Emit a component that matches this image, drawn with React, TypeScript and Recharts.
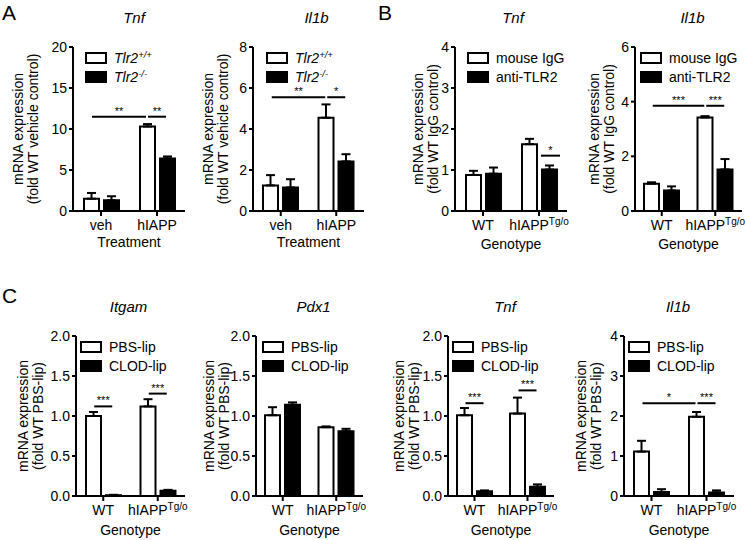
import React from "react";
import { BarChart, Bar, XAxis, YAxis, ErrorBar, ReferenceLine } from "recharts";

const FONT = '"Liberation Sans", Arial, Helvetica, sans-serif';

// ---- Panel A: Tlr2+/+ vs Tlr2-/- islets, vehicle vs hIAPP ----
const A_GROUPS = ["veh", "hIAPP"];
const A_LEGEND = ["Tlr2^+/+", "Tlr2^-/-"];

const A_TNF_WT = [1.5, 10.3];
const A_TNF_WT_SEM = [0.7, 0.3];
const A_TNF_KO = [1.3, 6.4];
const A_TNF_KO_SEM = [0.5, 0.25];
const A_TNF_TICKS = [0, 5, 10, 15, 20];

const A_IL1B_WT = [1.25, 4.55];
const A_IL1B_WT_SEM = [0.5, 0.65];
const A_IL1B_KO = [1.15, 2.42];
const A_IL1B_KO_SEM = [0.4, 0.35];
const A_IL1B_TICKS = [0, 2, 4, 6, 8];

// ---- Panel B: mouse IgG vs anti-TLR2 ----
const B_GROUPS = ["WT", "hIAPP^Tg/o"];
const B_LEGEND = ["mouse IgG", "anti-TLR2"];

const B_TNF_IGG = [0.88, 1.63];
const B_TNF_IGG_SEM = [0.1, 0.13];
const B_TNF_ANTI = [0.91, 1.01];
const B_TNF_ANTI_SEM = [0.15, 0.1];
const B_TNF_TICKS = [0, 1, 2, 3, 4];

const B_IL1B_IGG = [1.0, 3.42];
const B_IL1B_IGG_SEM = [0.05, 0.05];
const B_IL1B_ANTI = [0.75, 1.52];
const B_IL1B_ANTI_SEM = [0.15, 0.38];
const B_IL1B_TICKS = [0, 2, 4, 6];

// ---- Panel C: PBS-liposome vs clodronate-liposome ----
const C_GROUPS = ["WT", "hIAPP^Tg/o"];
const C_LEGEND = ["PBS-lip", "CLOD-lip"];

const C_ITGAM_PBS = [1.0, 1.12];
const C_ITGAM_PBS_SEM = [0.05, 0.09];
const C_ITGAM_CLOD = [0.01, 0.065];
const C_ITGAM_CLOD_SEM = [0.005, 0.012];

const C_PDX1_PBS = [1.01, 0.86];
const C_PDX1_PBS_SEM = [0.1, 0.01];
const C_PDX1_CLOD = [1.14, 0.81];
const C_PDX1_CLOD_SEM = [0.03, 0.03];

const C_TNF_PBS = [1.01, 1.03];
const C_TNF_PBS_SEM = [0.09, 0.2];
const C_TNF_CLOD = [0.06, 0.115];
const C_TNF_CLOD_SEM = [0.01, 0.03];

const C_IL1B_PBS = [1.11, 1.98];
const C_IL1B_PBS_SEM = [0.27, 0.12];
const C_IL1B_CLOD = [0.1, 0.09];
const C_IL1B_CLOD_SEM = [0.07, 0.05];

const C_FRAC_TICKS = [0, 0.5, 1, 1.5, 2];
const C_IL1B_TICKS = [0, 1, 2, 3, 4];

// significance bars: [group, slot] where slot -1 = white bar centre, +1 = black bar centre
type Sig = { from: [string, number]; to: [string, number]; y: number; mark: string };

const A_TNF_SIG: Sig[] = [
  { from: ["veh", -1], to: ["hIAPP", -1], y: 11.5, mark: "**" },
  { from: ["hIAPP", -1], to: ["hIAPP", 1], y: 11.5, mark: "**" },
];
const A_IL1B_SIG: Sig[] = [
  { from: ["veh", -1], to: ["hIAPP", -1], y: 5.55, mark: "**" },
  { from: ["hIAPP", -1], to: ["hIAPP", 1], y: 5.55, mark: "*" },
];
const B_TNF_SIG: Sig[] = [{ from: ["hIAPP^Tg/o", 0.1], to: ["hIAPP^Tg/o", 2.2], y: 1.35, mark: "*" }];
const B_IL1B_SIG: Sig[] = [
  { from: ["WT", -1], to: ["hIAPP^Tg/o", -1], y: 3.85, mark: "***" },
  { from: ["hIAPP^Tg/o", -1], to: ["hIAPP^Tg/o", 1], y: 3.85, mark: "***" },
];
const C_ITGAM_SIG: Sig[] = [
  { from: ["WT", -1], to: ["WT", 1], y: 1.12, mark: "***" },
  { from: ["hIAPP^Tg/o", -1], to: ["hIAPP^Tg/o", 1], y: 1.28, mark: "***" },
];
const C_TNF_SIG: Sig[] = [
  { from: ["WT", -1], to: ["WT", 1], y: 1.16, mark: "***" },
  { from: ["hIAPP^Tg/o", -1], to: ["hIAPP^Tg/o", 1], y: 1.32, mark: "***" },
];
const C_IL1B_SIG: Sig[] = [
  { from: ["WT", -1], to: ["hIAPP^Tg/o", -1], y: 2.32, mark: "*" },
  { from: ["hIAPP^Tg/o", -1], to: ["hIAPP^Tg/o", 1], y: 2.32, mark: "***" },
];

const BAR_SIZE = 15;
const BAR_GAP = 5;
const Y_AXIS_W = 40;
const X_AXIS_H = 45;
const FS = 14;

const intFmt = (v: number) => String(v);
const decFmt = (v: number) => v.toFixed(1);

function barShift(slot: number) {
  return (slot * (BAR_SIZE + BAR_GAP)) / 2;
}

function SigShape(props: any) {
  const { x1, x2, y1, fromSlot, toSlot, mark } = props;
  const a = x1 + barShift(fromSlot) + 1;
  const b = x2 + barShift(toSlot) - 1;
  return (
    <g>
      <line x1={a} x2={b} y1={y1} y2={y1} stroke="#000" strokeWidth={2} />
      <text x={(a + b) / 2} y={y1 - 2} textAnchor="middle" fontSize={11} fill="#000">
        {mark}
      </text>
    </g>
  );
}

function SupText({ s, italic }: { s: string; italic?: boolean }) {
  const [base, sup] = s.split("^");
  return (
    <span style={{ fontStyle: italic ? "italic" : "normal" }}>
      {base}
      {sup && <span style={{ fontSize: 9.5, verticalAlign: 5, lineHeight: 0 }}>{sup}</span>}
    </span>
  );
}

function GroupTick(props: any) {
  const { x, y, payload } = props;
  const [base, sup] = String(payload.value).split("^");
  return (
    <text x={x} y={y} dy="0.71em" textAnchor="middle" fontSize={FS} fill="#000">
      {base}
      {sup && (
        <tspan dy={-5} fontSize={10}>
          {sup}
        </tspan>
      )}
    </text>
  );
}

type PanelProps = {
  title: string;
  axisX: number;
  top: number;
  plotW: number;
  plotH: number;
  groups: string[];
  a: number[];
  aSem: number[];
  b: number[];
  bSem: number[];
  ticks: number[];
  fmt: (v: number) => string;
  yLines: string[];
  yOff: number;
  legend: string[];
  italicLegend?: boolean;
  legendDx: number;
  sig: Sig[];
  xTitle: string;
  xTitleOffset: number;
  titleDx: number;
};

function Panel(p: PanelProps) {
  const rows = p.groups.map((g, i) => ({
    group: g,
    a: p.a[i],
    aErr: [0, p.aSem[i]],
    b: p.b[i],
    bErr: [0, p.bSem[i]],
  }));
  const axisStyle = { stroke: "#000", strokeWidth: 2 };
  const chartW = Y_AXIS_W + p.plotW + 10;
  const chartH = 10 + p.plotH + X_AXIS_H;
  const cy = p.top + p.plotH / 2;
  return (
    <>
      <div
        style={{
          position: "absolute",
          left: p.axisX,
          width: p.plotW,
          top: p.top - 38,
          height: 18,
          lineHeight: "18px",
          textAlign: "center",
          fontSize: 15,
          fontStyle: "italic",
          transform: `translateX(${p.titleDx}px)`,
        }}
      >
        {p.title}
      </div>
      {p.yLines.map((t, i) => (
        <div
          key={i}
          style={{
            position: "absolute",
            left: p.axisX - p.yOff - (p.yLines.length - 1 - i) * 15,
            top: cy,
            fontSize: FS,
            lineHeight: "15px",
            whiteSpace: "nowrap",
            transform: "translate(-50%, -50%) rotate(-90deg)",
          }}
        >
          {t}
        </div>
      ))}
      <div style={{ position: "absolute", left: p.axisX - Y_AXIS_W, top: p.top - 10 }}>
        <BarChart
          width={chartW}
          height={chartH}
          data={rows}
          barSize={BAR_SIZE}
          barGap={BAR_GAP}
          margin={{ top: 10, right: 10, left: 0, bottom: 0 }}
        >
          <XAxis
            dataKey="group"
            type="category"
            height={X_AXIS_H}
            interval={0}
            tickSize={5}
            tickMargin={4}
            axisLine={axisStyle}
            tickLine={axisStyle}
            tick={<GroupTick />}
            label={{ value: p.xTitle, position: "insideBottom", offset: p.xTitleOffset, fill: "#000", fontSize: FS }}
          />
          <YAxis
            type="number"
            domain={[0, p.ticks[p.ticks.length - 1]]}
            ticks={p.ticks}
            interval={0}
            width={Y_AXIS_W}
            tickSize={4}
            tickMargin={2}
            axisLine={axisStyle}
            tickLine={axisStyle}
            tick={{ fill: "#000", fontSize: FS }}
            tickFormatter={p.fmt}
          />
          <Bar dataKey="a" fill="#fff" stroke="#000" strokeWidth={2} isAnimationActive={false}>
            <ErrorBar dataKey="aErr" direction="y" width={4.5} stroke="#000" strokeWidth={2} />
          </Bar>
          <Bar dataKey="b" fill="#000" stroke="#000" strokeWidth={2} isAnimationActive={false}>
            <ErrorBar dataKey="bErr" direction="y" width={4.5} stroke="#000" strokeWidth={2} />
          </Bar>
          {p.sig.map((s, i) => (
            <ReferenceLine
              key={i}
              segment={[
                { x: s.from[0], y: s.y },
                { x: s.to[0], y: s.y },
              ]}
              stroke="#000"
              shape={(lp: any) => <SigShape {...lp} fromSlot={s.from[1]} toSlot={s.to[1]} mark={s.mark} />}
            />
          ))}
        </BarChart>
      </div>
      <div style={{ position: "absolute", left: p.axisX + p.legendDx, top: p.top + 1, fontSize: FS }}>
        {p.legend.map((l, i) => (
          <div key={i} style={{ display: "flex", alignItems: "center", height: 19 }}>
            <div
              style={{
                width: 18,
                height: 8,
                border: "2px solid #000",
                background: i === 0 ? "#fff" : "#000",
                marginRight: 7,
              }}
            />
            <SupText s={l} italic={p.italicLegend} />
          </div>
        ))}
      </div>
    </>
  );
}

const ROW1_TOP = 47;
const ROW1_H = 164;
const ROW2_TOP = 336;
const ROW2_H = 160;

const PANELS: PanelProps[] = [
  {
    title: "Tnf", axisX: 73, top: ROW1_TOP, plotW: 112, plotH: ROW1_H, groups: A_GROUPS,
    a: A_TNF_WT, aSem: A_TNF_WT_SEM, b: A_TNF_KO, bSem: A_TNF_KO_SEM, ticks: A_TNF_TICKS, fmt: intFmt,
    yLines: ["mRNA expression", "(fold WT vehicle control)"], yOff: 40, legend: A_LEGEND, italicLegend: true,
    legendDx: 12, sig: A_TNF_SIG, xTitle: "Treatment", xTitleOffset: 9, titleDx: 5,
  },
  {
    title: "Il1b", axisX: 253, top: ROW1_TOP, plotW: 111, plotH: ROW1_H, groups: A_GROUPS,
    a: A_IL1B_WT, aSem: A_IL1B_WT_SEM, b: A_IL1B_KO, bSem: A_IL1B_KO_SEM, ticks: A_IL1B_TICKS, fmt: intFmt,
    yLines: ["mRNA expression", "(fold WT vehicle control)"], yOff: 30, legend: A_LEGEND, italicLegend: true,
    legendDx: 13, sig: A_IL1B_SIG, xTitle: "Treatment", xTitleOffset: 9, titleDx: 8,
  },
  {
    title: "Tnf", axisX: 455, top: ROW1_TOP, plotW: 112, plotH: ROW1_H, groups: B_GROUPS,
    a: B_TNF_IGG, aSem: B_TNF_IGG_SEM, b: B_TNF_ANTI, bSem: B_TNF_ANTI_SEM, ticks: B_TNF_TICKS, fmt: intFmt,
    yLines: ["mRNA expression", "(fold WT IgG control)"], yOff: 22, legend: B_LEGEND,
    legendDx: 12, sig: B_TNF_SIG, xTitle: "Genotype", xTitleOffset: 7, titleDx: 2,
  },
  {
    title: "Il1b", axisX: 635, top: ROW1_TOP, plotW: 107, plotH: ROW1_H, groups: B_GROUPS,
    a: B_IL1B_IGG, aSem: B_IL1B_IGG_SEM, b: B_IL1B_ANTI, bSem: B_IL1B_ANTI_SEM, ticks: B_IL1B_TICKS, fmt: intFmt,
    yLines: ["mRNA expression", "(fold WT IgG control)"], yOff: 26, legend: B_LEGEND,
    legendDx: 5, sig: B_IL1B_SIG, xTitle: "Genotype", xTitleOffset: 7, titleDx: 4,
  },
  {
    title: "Itgam", axisX: 76, top: ROW2_TOP, plotW: 109, plotH: ROW2_H, groups: C_GROUPS,
    a: C_ITGAM_PBS, aSem: C_ITGAM_PBS_SEM, b: C_ITGAM_CLOD, bSem: C_ITGAM_CLOD_SEM, ticks: C_FRAC_TICKS, fmt: decFmt,
    yLines: ["mRNA expression", "(fold WT PBS-lip)"], yOff: 38, legend: C_LEGEND,
    legendDx: 4, sig: C_ITGAM_SIG, xTitle: "Genotype", xTitleOffset: 6, titleDx: -2,
  },
  {
    title: "Pdx1", axisX: 256, top: ROW2_TOP, plotW: 107, plotH: ROW2_H, groups: C_GROUPS,
    a: C_PDX1_PBS, aSem: C_PDX1_PBS_SEM, b: C_PDX1_CLOD, bSem: C_PDX1_CLOD_SEM, ticks: C_FRAC_TICKS, fmt: decFmt,
    yLines: ["mRNA expression", "(fold WT PBS-lip)"], yOff: 32, legend: C_LEGEND,
    legendDx: 6, sig: [], xTitle: "Genotype", xTitleOffset: 6, titleDx: 4,
  },
  {
    title: "Tnf", axisX: 448, top: ROW2_TOP, plotW: 106, plotH: ROW2_H, groups: C_GROUPS,
    a: C_TNF_PBS, aSem: C_TNF_PBS_SEM, b: C_TNF_CLOD, bSem: C_TNF_CLOD_SEM, ticks: C_FRAC_TICKS, fmt: decFmt,
    yLines: ["mRNA expression", "(fold WT PBS-lip)"], yOff: 34, legend: C_LEGEND,
    legendDx: 4, sig: C_TNF_SIG, xTitle: "Genotype", xTitleOffset: 6, titleDx: 4,
  },
  {
    title: "Il1b", axisX: 624, top: ROW2_TOP, plotW: 110, plotH: ROW2_H, groups: C_GROUPS,
    a: C_IL1B_PBS, aSem: C_IL1B_PBS_SEM, b: C_IL1B_CLOD, bSem: C_IL1B_CLOD_SEM, ticks: C_IL1B_TICKS, fmt: intFmt,
    yLines: ["mRNA expression", "(fold WT PBS-lip)"], yOff: 28, legend: C_LEGEND,
    legendDx: 4, sig: C_IL1B_SIG, xTitle: "Genotype", xTitleOffset: 6, titleDx: -1,
  },
];

const LETTERS = [
  { t: "A", x: 2, y: 2 },
  { t: "B", x: 378, y: 2 },
  { t: "C", x: 2, y: 285 },
];

export default function App() {
  return (
    <div
      style={{
        position: "absolute",
        left: 0,
        top: 0,
        width: 745,
        height: 540,
        overflow: "hidden",
        background: "#fff",
        color: "#000",
        fontFamily: FONT,
      }}
    >
      {LETTERS.map((l) => (
        <div key={l.t} style={{ position: "absolute", left: l.x, top: l.y, fontSize: 21, lineHeight: "22px" }}>
          {l.t}
        </div>
      ))}
      {PANELS.map((p, i) => (
        <Panel key={i} {...p} />
      ))}
    </div>
  );
}
